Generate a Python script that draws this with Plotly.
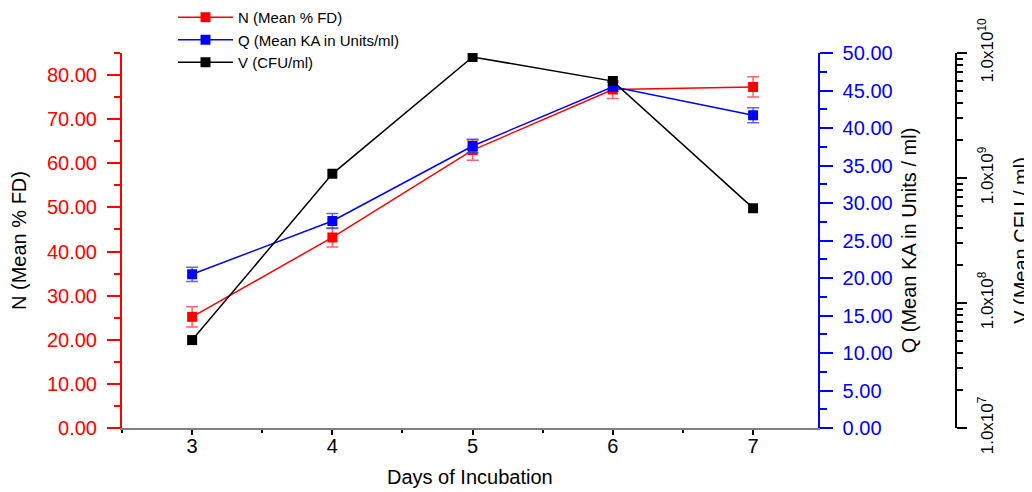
import plotly.graph_objects as go

days = [3, 4, 5, 6, 7]
n_mean_fd = [25.2, 43.2, 63.0, 76.7, 77.3]
n_err = [2.3, 2.2, 2.3, 2.0, 2.3]
q_mean_ka = [20.5, 27.6, 37.6, 45.5, 41.7]
q_err = [0.95, 1.0, 0.9, 0.6, 1.0]
v_cfu = [5.05e7, 1.08e9, 9.3e9, 5.96e9, 5.74e8]

y3_tickvals = [1e7, 1e8, 1e9, 1e10]
y3_ticktext = ["1.0x10<sup>7</sup>", "1.0x10<sup>8</sup>", "1.0x10<sup>9</sup>", "1.0x10<sup>10</sup>"]
y3_minor = [k * 10 ** e for e in (7, 8, 9) for k in range(2, 10)]

FONT = "Liberation Sans, Arial, sans-serif"
RED = "#ff0000"
BLUE = "#0000ff"

fig = go.Figure()
fig.add_trace(go.Scatter(
    x=days, y=n_mean_fd, name="N (Mean % FD)", mode="lines+markers",
    line=dict(color=RED, width=1.5),
    marker=dict(symbol="square", size=10, color=RED),
    error_y=dict(type="data", array=n_err, color="rgba(255,60,60,0.8)", thickness=1.5, width=6),
    yaxis="y"))
fig.add_trace(go.Scatter(
    x=days, y=q_mean_ka, name="Q (Mean KA in Units/ml)", mode="lines+markers",
    line=dict(color=BLUE, width=1.5),
    marker=dict(symbol="square", size=10, color=BLUE),
    error_y=dict(type="data", array=q_err, color="rgba(60,60,255,0.8)", thickness=1.5, width=6),
    yaxis="y2"))
fig.add_trace(go.Scatter(
    x=days, y=v_cfu, name="V (CFU/ml)", mode="lines+markers",
    line=dict(color="black", width=1.5),
    marker=dict(symbol="square", size=10, color="black"),
    yaxis="y3"))

# page has an 8px body margin: figure sized to fit the window exactly
W, H = 1024, 484
L, R, T, B = 114, 70, 45, 64
pw = W - L - R
ph = H - T - B
xdom_end = 695.6 / pw

fig.update_layout(
    width=W, height=H,
    margin=dict(l=L, r=R, t=T, b=B, pad=0, autoexpand=False),
    paper_bgcolor="white", plot_bgcolor="white",
    font=dict(family=FONT, size=20, color="black"),
    showlegend=True,
    legend=dict(x=(165 - L) / pw, y=1 + (T + 7) / ph, xanchor="left", yanchor="top",
                font=dict(size=15, family=FONT), bgcolor="rgba(0,0,0,0)",
                tracegroupgap=0, itemwidth=55),
    xaxis=dict(
        domain=[0, xdom_end], range=[2.5, 7.46], automargin=False,
        tickvals=days, ticks="outside", ticklen=5, tickwidth=1.5, tickcolor="black",
        showline=True, linecolor="#808080", linewidth=2,
        showgrid=False, zeroline=False,
        tickfont=dict(size=20, color="black"), ticklabelstandoff=-6,
        minor=dict(tick0=2.5, dtick=0.5, ticks="outside", ticklen=3, tickcolor="black"),
        title=dict(text="Days of Incubation", font=dict(size=20), standoff=14),
    ),
    yaxis=dict(
        range=[0, 85], dtick=10, tickformat=".2f", automargin=False,
        ticks="outside", ticklen=13, tickwidth=1.5, tickcolor=RED,
        showline=True, linecolor=RED, linewidth=2,
        showgrid=False, zeroline=False,
        tickfont=dict(size=20, color=RED), ticklabelstandoff=6,
        minor=dict(dtick=5, ticks="outside", ticklen=6, tickcolor=RED),
        title=dict(text="N (Mean % FD)", font=dict(size=20, color="black"), standoff=22),
    ),
    yaxis2=dict(
        overlaying="y", side="right", anchor="x", automargin=False,
        range=[0, 50], dtick=5, tickformat=".2f",
        ticks="outside", ticklen=13, tickwidth=1.5, tickcolor=BLUE,
        showline=True, linecolor=BLUE, linewidth=2,
        showgrid=False, zeroline=False,
        tickfont=dict(size=20, color=BLUE), ticklabelstandoff=6,
        minor=dict(dtick=2.5, ticks="outside", ticklen=7, tickcolor=BLUE),
        title=dict(text="Q (Mean KA in Units / ml)", font=dict(size=20, color="black"), standoff=10),
    ),
    yaxis3=dict(
        overlaying="y", side="right", anchor="free", position=(948 - L) / pw, automargin=False,
        type="log", range=[7, 10],
        tickmode="array", tickvals=y3_tickvals, ticktext=y3_ticktext, tickangle=-90,
        ticks="outside", ticklen=10, tickwidth=1.5, tickcolor="black",
        showline=True, linecolor="black", linewidth=2,
        showgrid=False, zeroline=False,
        tickfont=dict(size=17, color="black"), ticklabelstandoff=6,
        minor=dict(tickmode="array", tickvals=y3_minor, ticks="outside", ticklen=6, tickcolor="black"),
        title=dict(text="V (Mean CFU / ml)", font=dict(size=20, color="black"), standoff=20),
    ),
)

fig.write_html("out.html")
